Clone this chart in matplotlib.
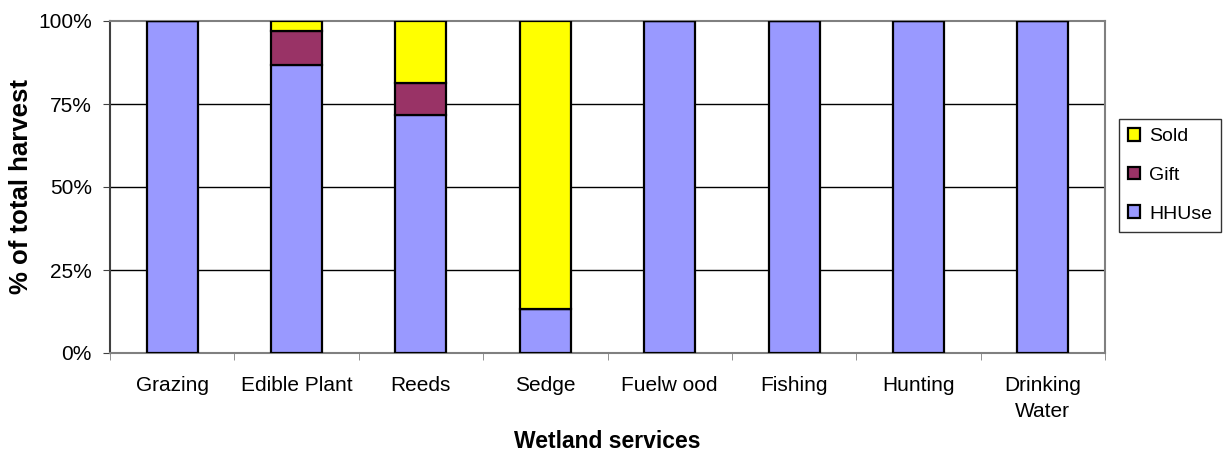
import matplotlib
matplotlib.use("Agg")
import matplotlib.pyplot as plt
import numpy as np

categories = ["Grazing", "Edible Plant", "Reeds", "Sedge", "Fuelw ood",
              "Fishing", "Hunting", "Drinking\nWater"]
hhuse = [100, 86.7, 71.6, 13.3, 100, 100, 100, 100]
gift = [0, 10.3, 9.6, 0, 0, 0, 0, 0]
sold = [0, 3.0, 18.8, 86.7, 0, 0, 0, 0]
yticks = [0, 25, 50, 75, 100]
ytick_labels = ["0%", "25%", "50%", "75%", "100%"]

plt.rcParams['font.family'] = ['Liberation Sans', 'DejaVu Sans']

W, H = 1224, 457
fig = plt.figure(figsize=(W / 100, H / 100), dpi=100)
ax = fig.add_axes([110 / W, 1 - 353 / H, 995 / W, 332 / H])

x = np.arange(len(categories))
w = 0.41
edge = dict(edgecolor="black", linewidth=1.6)
b1 = ax.bar(x, hhuse, w, color="#9999FF", label="HHUse", zorder=3, **edge)
b2 = ax.bar(x, gift, w, bottom=hhuse, color="#993366", label="Gift", zorder=3, **edge)
bottom2 = np.array(hhuse) + np.array(gift)
b3 = ax.bar(x, sold, w, bottom=bottom2, color="#FFFF00", label="Sold", zorder=3, **edge)

ax.set_xlim(-0.5, len(categories) - 0.5)
ax.set_ylim(0, 100)
ax.set_yticks(yticks)
ax.set_yticklabels(ytick_labels, fontsize=15)
ax.set_xticks(x)
ax.set_xticklabels(categories, fontsize=15, linespacing=1.5)
ax.tick_params(axis="x", length=0, pad=16.5)
ax.set_xticks(np.arange(-0.5, len(categories)), minor=True)
ax.tick_params(axis="x", which="minor", length=5, color="#808080", direction="out")
ax.tick_params(axis="y", length=5, color="#404040", direction="out", pad=8)

for yv in [25, 50, 75]:
    ax.axhline(yv, color="black", linewidth=1.0, zorder=1)

for s in ["top", "right", "bottom"]:
    ax.spines[s].set_color("#808080")
    ax.spines[s].set_linewidth(1.5)
ax.spines["left"].set_color("#404040")
ax.spines["left"].set_linewidth(1.5)

# axis titles placed in figure pixels
fig.text(21 / W, 1 - 187 / H, "% of total harvest", rotation=90,
         fontsize=18.5, fontweight="bold", ha="center", va="center")
fig.text((110 + 1105) / 2 / W, 1 - 442 / H, "Wetland services",
         fontsize=16.5, fontweight="bold", ha="center", va="center")

leg = fig.legend(handles=[b3, b2, b1], loc="upper left",
                 bbox_to_anchor=(1119 / W, 1 - 119 / H),
                 fontsize=14, frameon=True, fancybox=False, handlelength=0.62,
                 handleheight=0.62, handletextpad=0.45, borderpad=0.48,
                 labelspacing=1.1, borderaxespad=0)
leg.get_frame().set_edgecolor("black")
leg.get_frame().set_linewidth(1.0)

fig.savefig("out.png", dpi=100)
